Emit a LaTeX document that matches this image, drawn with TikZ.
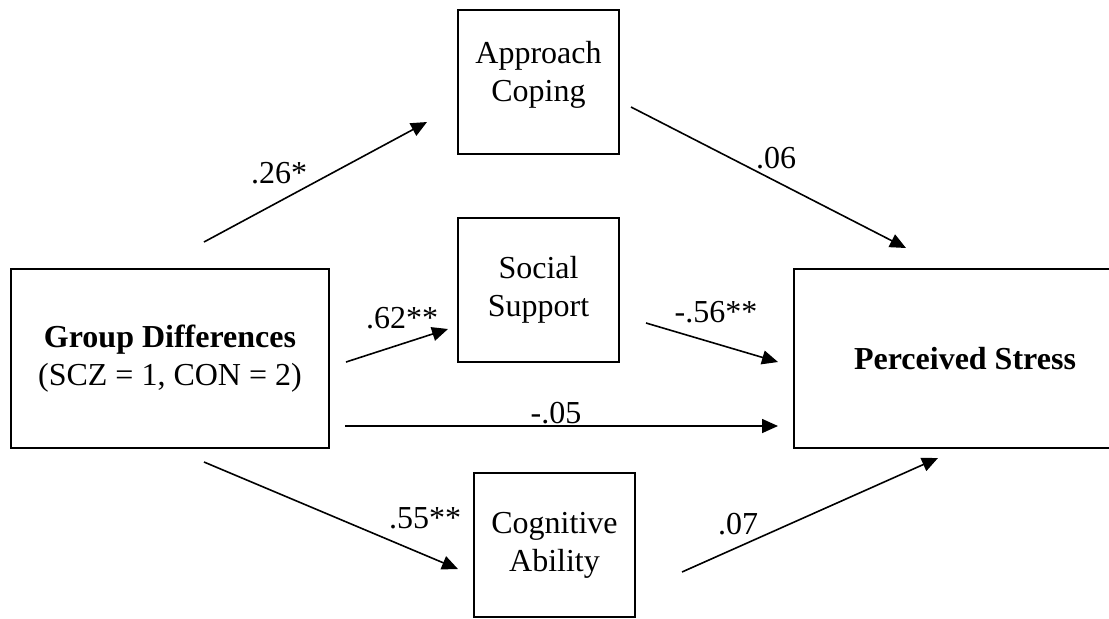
\documentclass[tikz,border=0pt]{standalone}
\usepackage{fontspec}
\setmainfont{Liberation Serif}
\usetikzlibrary{arrows.meta,positioning}

\begin{document}
\begin{tikzpicture}[x=0.5pt,y=-0.5pt,
  every node/.style={font=\fontsize{16}{19}\selectfont},
  var/.style={draw,line width=0.9pt,align=center,inner sep=0pt},
  eff/.style={-{Triangle[length=8pt,width=7pt]},line width=0.8pt}]
  \useasboundingbox (0,0) rectangle (1109,618);
  \clip (0,0) rectangle (1109,618);

  % Variables
  \node[var,minimum width=159pt,minimum height=89.5pt] (grp) at (170,358.5)
    {\textbf{Group Differences}\\(SCZ = 1, CON = 2)};
  \node[var,minimum width=80.5pt,minimum height=72pt] (appr) at (538.5,82) {Approach\\Coping\\[-8pt]};
  \node[var,minimum width=80.5pt,minimum height=72pt] (soc) at (538.5,290) {Social\\Support};
  \node[var,minimum width=80.5pt,minimum height=72pt] (cog) at (554.5,545) {Cognitive\\Ability};
  \node[var,minimum width=171pt,minimum height=89.5pt] (stress) at (965,358.5)
    {\textbf{Perceived Stress}};

  % Path ends
  \coordinate (g1) at (204,242);  \coordinate (a1) at (427,122);
  \coordinate (a2) at (631,107);  \coordinate (s1) at (906,248);
  \coordinate (g2) at (346,362);  \coordinate (so1) at (448,329);
  \coordinate (so2) at (646,323); \coordinate (s2) at (778,362);
  \coordinate (g3) at (345,426);  \coordinate (s3) at (778,426);
  \coordinate (g4) at (204,462);  \coordinate (co1) at (458,569);
  \coordinate (co2) at (682,572); \coordinate (s4) at (938,458);

  % Paths
  \draw[eff] (g1) -- (a1);
  \draw[eff] (a2) -- (s1);
  \draw[eff] (g2) -- (so1);
  \draw[eff] (so2) -- (s2);
  \draw[eff] (g3) -- (s3);
  \draw[eff] (g4) -- (co1);
  \draw[eff] (co2) -- (s4);

  % Coefficients
  \node (c1) at (279,173) {.26*};
  \node (c2) at (776,158) {.06};
  \node (c3) at (402,318) {.62**};
  \node (c4) at (716,312) {-.56**};
  \node (c5) at (556,413) {-.05};
  \node (c6) at (425,518) {.55**};
  \node (c7) at (738,524) {.07};
\end{tikzpicture}
\end{document}
